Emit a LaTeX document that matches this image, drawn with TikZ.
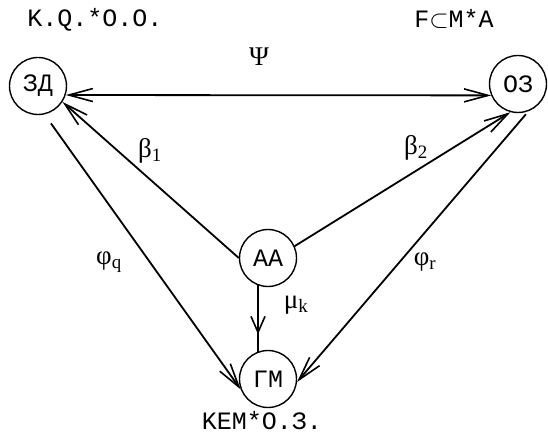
\documentclass[tikz,border=0pt]{standalone}
\usepackage{amsmath,amssymb}
\usepackage{fontspec}
\usepackage{tikz}
\usetikzlibrary{arrows.meta,positioning,decorations.markings}
\newfontfamily\typew{Liberation Mono}
\newfontfamily\grk{Liberation Serif}

\begin{document}
\begin{tikzpicture}[x=1pt, y=-1pt,
    state/.style={circle, draw, line width=1.4pt, minimum size=57pt, inner sep=0pt, font=\typew\fontsize{25}{27}\selectfont},
    txt/.style={font=\typew\fontsize{25}{27}\selectfont, inner sep=0pt, anchor=base},
    lbl/.style={font=\grk\fontsize{27}{29}\selectfont, inner sep=0pt},
    arr/.style={-{Straight Barb[length=24pt, width=13pt, line width=1.6pt]}, line width=1.8pt},
    midarr/.style={line width=1.8pt, decoration={markings, mark=at position 0.74 with {\arrow{Straight Barb[length=16pt, width=14pt, line width=1.6pt]}}}, postaction={decorate}}
]
    \useasboundingbox (0,0) rectangle (548,435);

    % States
    \node[state] (zd) at (38,86) {ЗД};
    \node[state] (oz) at (518,84) {ОЗ};
    \node[state] (aa) at (268,258) {АА};
    \node[state] (gm) at (268,379) {ГМ};

    % Arrows
    \draw[arr, {Straight Barb[length=24pt, width=13pt, line width=1.6pt]}-{Straight Barb[length=24pt, width=13pt, line width=1.6pt]}] (zd.-18) -- (oz.-157);
    \draw[arr] (aa.180) -- (zd.-33);
    \draw[arr] (aa.24) -- (oz.-105);
    \draw[arr, shorten <=11pt] (zd.-77) -- (gm.201);
    \draw[arr, shorten <=4pt] (oz.-69) -- (gm.-6);
    \draw[midarr] (aa.-110) -- (gm.110);

    % Labels
    \node[txt] (kq) at (95,27) {K.Q.*O.O.};
    \node[txt] (fma) at (454,28) {F$\subset$M*A};
    \node[txt] (kem) at (262,429) {KEM*O.З.};
    \node[lbl] (psi) at (259,57) {Ψ};
    \node[lbl] (b1) at (150,151) {β\textsubscript{1}};
    \node[lbl] (b2) at (416,148) {β\textsubscript{2}};
    \node[lbl] (phq) at (109,262) {φ\textsubscript{q}};
    \node[lbl] (phr) at (425,262) {φ\textsubscript{r}};
    \node[lbl] (mu) at (296,305) {μ\textsubscript{k}};

\end{tikzpicture}
\end{document}
